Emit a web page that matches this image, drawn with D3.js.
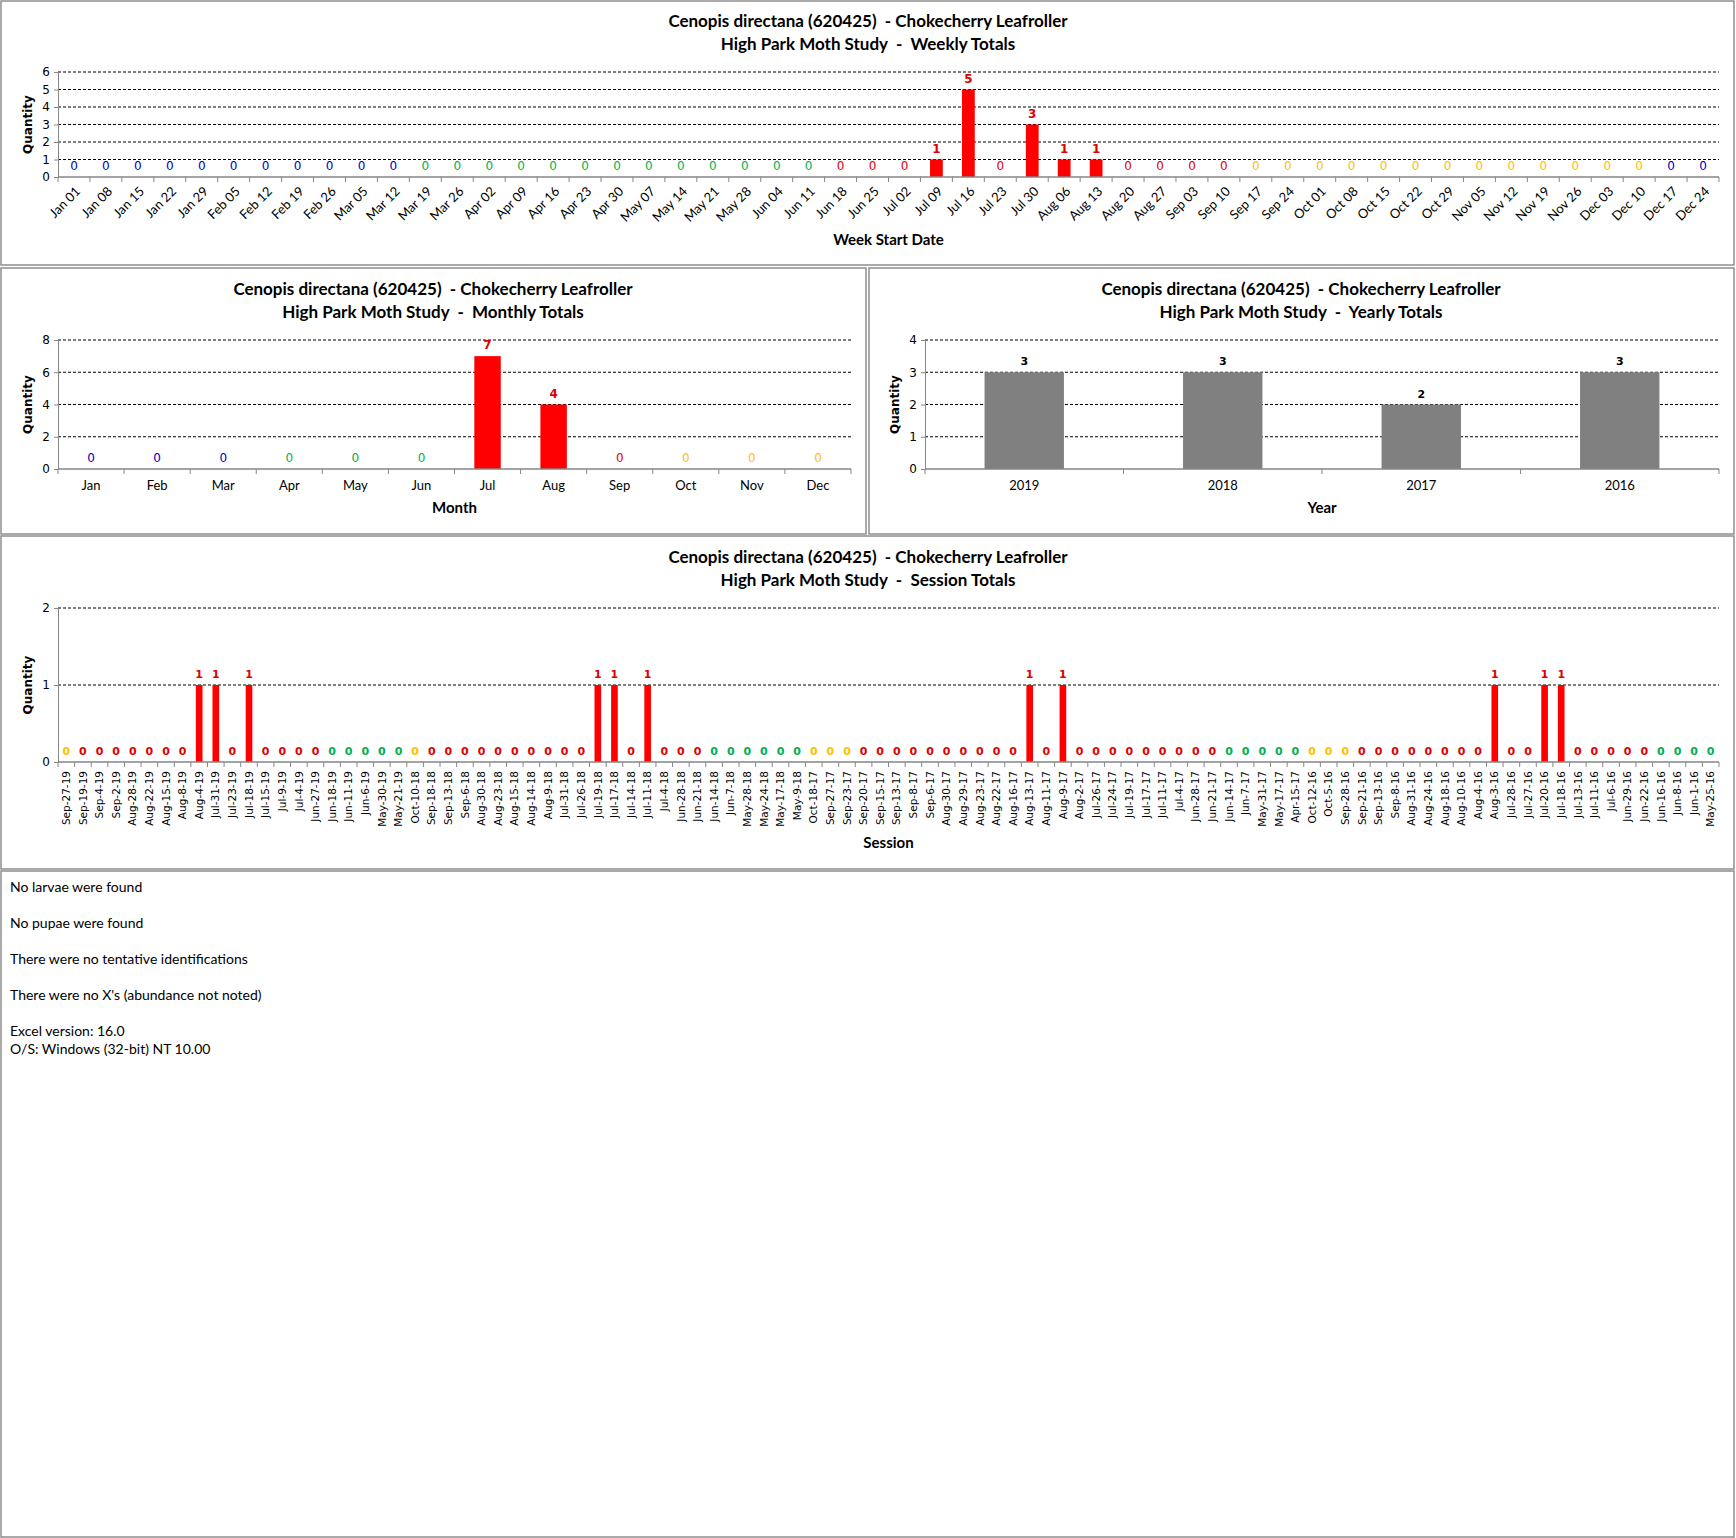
<!DOCTYPE html>
<html>
<head>
<meta charset="utf-8">
<script src="https://cdn.jsdelivr.net/npm/d3@7"></script>
<style>
  body { margin: 0; background: #fff; }
</style>
</head>
<body>
<svg id="page" width="1736" height="1538"></svg>
<script>
// ---- data ----
const weekLabels = ["Jan 01", "Jan 08", "Jan 15", "Jan 22", "Jan 29", "Feb 05", "Feb 12", "Feb 19", "Feb 26",
    "Mar 05", "Mar 12", "Mar 19", "Mar 26", "Apr 02", "Apr 09", "Apr 16", "Apr 23", "Apr 30",
    "May 07", "May 14", "May 21", "May 28", "Jun 04", "Jun 11", "Jun 18", "Jun 25",
    "Jul 02", "Jul 09", "Jul 16", "Jul 23", "Jul 30", "Aug 06", "Aug 13", "Aug 20", "Aug 27",
    "Sep 03", "Sep 10", "Sep 17", "Sep 24", "Oct 01", "Oct 08", "Oct 15", "Oct 22", "Oct 29",
    "Nov 05", "Nov 12", "Nov 19", "Nov 26", "Dec 03", "Dec 10", "Dec 17", "Dec 24"]
const weekValues = [0, 0, 0, 0, 0, 0, 0, 0, 0, 0,
    0, 0, 0, 0, 0, 0, 0, 0, 0, 0,
    0, 0, 0, 0, 0, 0, 0, 1, 5, 0,
    3, 1, 1, 0, 0, 0, 0, 0, 0, 0,
    0, 0, 0, 0, 0, 0, 0, 0, 0, 0,
    0, 0]

const monthLabels = ["Jan", "Feb", "Mar", "Apr", "May", "Jun", "Jul", "Aug", "Sep", "Oct", "Nov", "Dec"]
const monthValues = [0, 0, 0, 0, 0, 0, 7, 4, 0, 0, 0, 0]

const yearLabels = ["2019", "2018", "2017", "2016"]
const yearValues = [3, 3, 2, 3]

const sessionLabels = ["Sep-27-19", "Sep-19-19", "Sep-4-19", "Sep-2-19", "Aug-28-19", "Aug-22-19", "Aug-15-19",
    "Aug-8-19", "Aug-4-19", "Jul-31-19", "Jul-23-19", "Jul-18-19", "Jul-15-19", "Jul-9-19", "Jul-4-19",
    "Jun-27-19", "Jun-18-19", "Jun-11-19", "Jun-6-19", "May-30-19", "May-21-19",
    "Oct-10-18", "Sep-18-18", "Sep-13-18", "Sep-6-18", "Aug-30-18", "Aug-23-18", "Aug-15-18", "Aug-14-18",
    "Aug-9-18", "Jul-31-18", "Jul-26-18", "Jul-19-18", "Jul-17-18", "Jul-14-18", "Jul-11-18", "Jul-4-18",
    "Jun-28-18", "Jun-21-18", "Jun-14-18", "Jun-7-18", "May-28-18", "May-24-18", "May-17-18", "May-9-18",
    "Oct-18-17", "Sep-27-17", "Sep-23-17", "Sep-20-17", "Sep-15-17", "Sep-13-17", "Sep-8-17", "Sep-6-17",
    "Aug-30-17", "Aug-29-17", "Aug-23-17", "Aug-22-17", "Aug-16-17", "Aug-13-17", "Aug-11-17", "Aug-9-17",
    "Aug-2-17", "Jul-26-17", "Jul-24-17", "Jul-19-17", "Jul-17-17", "Jul-11-17", "Jul-4-17", "Jun-28-17",
    "Jun-21-17", "Jun-14-17", "Jun-7-17", "May-31-17", "May-17-17", "Apr-15-17",
    "Oct-12-16", "Oct-5-16", "Sep-28-16", "Sep-21-16", "Sep-13-16", "Sep-8-16", "Aug-31-16", "Aug-24-16",
    "Aug-18-16", "Aug-10-16", "Aug-4-16", "Aug-3-16", "Jul-28-16", "Jul-27-16", "Jul-20-16", "Jul-18-16",
    "Jul-13-16", "Jul-11-16", "Jul-6-16", "Jun-29-16", "Jun-22-16", "Jun-16-16", "Jun-8-16", "Jun-1-16",
    "May-25-16"]
const sessionValues = [0, 0, 0, 0, 0, 0, 0, 0, 1, 1,
    0, 1, 0, 0, 0, 0, 0, 0, 0, 0,
    0, 0, 0, 0, 0, 0, 0, 0, 0, 0,
    0, 0, 1, 1, 0, 1, 0, 0, 0, 0,
    0, 0, 0, 0, 0, 0, 0, 0, 0, 0,
    0, 0, 0, 0, 0, 0, 0, 0, 1, 0,
    1, 0, 0, 0, 0, 0, 0, 0, 0, 0,
    0, 0, 0, 0, 0, 0, 0, 0, 0, 0,
    0, 0, 0, 0, 0, 0, 1, 0, 0, 1,
    1, 0, 0, 0, 0, 0, 0, 0, 0, 0]

const speciesTitle = "Cenopis directana (620425)  - Chokecherry Leafroller"
const notes = ["No larvae were found", "No pupae were found", "There were no tentative identifications",
    "There were no X's (abundance not noted)", "Excel version: 16.0", "O/S: Windows (32-bit) NT 10.00"]

// ---- styling ----
const seasonColor = { winter: "#0000c0", spring: "#00b050", summer: "#e00000", fall: "#ffc000" }
const barRed = "#ff0000"
const axisGrey = "#868686"
const mainFont = "Lato, 'Open Sans', sans-serif"
const verdanaLike = "'DejaVu Sans', Verdana, sans-serif"

function seasonOf(month, day) {
    // month 0-11
    const md = (month + 1) * 100 + day
    if (md >= 320 && md < 621) return "spring"
    if (md >= 621 && md < 922) return "summer"
    if (md >= 922 && md < 1221) return "fall"
    return "winter"
}

const weekColor = label => {
    const [m, d] = label.split(" ")
    const end = new Date(2018, monthLabels.indexOf(m), +d + 6) // season of the week's last day
    return seasonColor[seasonOf(end.getMonth(), end.getDate())]
}
const monthColor = label => seasonColor[["winter", "spring", "summer", "fall"][Math.floor(monthLabels.indexOf(label) / 3)]]
const sessionColor = label => {
    const [m, d] = label.split("-")
    return seasonColor[seasonOf(monthLabels.indexOf(m), +d)]
}

const svg = d3.select("#page")

function panel(x, y, w, h) {
    svg.append("rect")
        .attr("x", x).attr("y", y).attr("width", w).attr("height", h)
        .attr("fill", "#fff").attr("stroke", "#8e8e8e").attr("stroke-width", 1.5)
}

function titles(cx, y1, subtitle) {
    const t = svg.append("text")
        .attr("text-anchor", "middle")
        .style("white-space", "pre")
        .style("font-family", mainFont).style("font-weight", "bold").style("font-size", "17px")
    t.append("tspan").attr("x", cx).attr("y", y1).text(speciesTitle)
    t.append("tspan").attr("x", cx).attr("y", y1 + 23).text("High Park Moth Study  -  " + subtitle)
}

function barChart(o) {
    const g = svg.append("g")
    const x = d3.scaleBand()
        .domain(o.labels)
        .range([o.left, o.right])
        .paddingInner(0.6)
        .paddingOuter(0.3)
    const y = d3.scaleLinear()
        .domain([0, o.max])
        .range([o.bottom, o.top])
    const step = x.step()
    const ticks = d3.range(0, o.max + 1, o.tickStep || 1)

    // dashed gridlines
    g.selectAll(".grid")
        .data(ticks.filter(t => t > 0))
        .enter().append("line")
        .attr("x1", o.left).attr("x2", o.right)
        .attr("y1", d => y(d)).attr("y2", d => y(d))
        .attr("stroke", "#000").attr("stroke-width", 1).attr("stroke-dasharray", "3,2")

    // y axis
    const yAxis = g.append("g")
        .attr("transform", `translate(${o.left},0)`)
        .call(d3.axisLeft(y).tickValues(ticks).tickFormat(d3.format("d")).tickSize(4).tickPadding(4))
    yAxis.select(".domain").attr("stroke", axisGrey)
    yAxis.selectAll(".tick line").attr("stroke", axisGrey)
    yAxis.selectAll("text").style("font-family", verdanaLike).style("font-size", "12px").style("fill", "#000")

    // bars
    g.selectAll(".bar")
        .data(o.values)
        .enter().append("rect")
        .attr("x", (d, i) => x(o.labels[i]))
        .attr("width", x.bandwidth())
        .attr("y", d => y(d))
        .attr("height", d => y(0) - y(d))
        .attr("fill", o.barColor)

    // x axis line + boundary tick marks
    g.append("line")
        .attr("x1", o.left).attr("x2", o.right)
        .attr("y1", o.bottom).attr("y2", o.bottom)
        .attr("stroke", axisGrey).attr("stroke-width", 1.5)
    g.selectAll(".xtick")
        .data(d3.range(o.labels.length + 1))
        .enter().append("line")
        .attr("x1", i => o.left + i * step).attr("x2", i => o.left + i * step)
        .attr("y1", o.bottom).attr("y2", o.bottom + 5)
        .attr("stroke", axisGrey)

    // category labels
    const lab = g.selectAll(".xlab")
        .data(o.labels)
        .enter().append("text")
        .style("font-family", o.labelFont || mainFont)
        .style("font-size", o.labelSize || "13px")
        .style("fill", "#000")
        .text(d => d)
    if (o.rotate === -45) {
        lab.attr("text-anchor", "end")
            .attr("dy", "0.35em")
            .attr("transform", d => `translate(${x(d) + x.bandwidth() / 2 + 4},${o.bottom + 12}) rotate(-45)`)
    } else if (o.rotate === -90) {
        lab.attr("text-anchor", "end")
            .attr("dy", "0.35em")
            .attr("transform", d => `translate(${x(d) + x.bandwidth() / 2},${o.bottom + 9}) rotate(-90)`)
    } else {
        lab.attr("text-anchor", "middle")
            .attr("x", d => x(d) + x.bandwidth() / 2)
            .attr("y", o.bottom + 21)
    }

    // data labels
    g.selectAll(".dlab")
        .data(o.values)
        .enter().append("text")
        .attr("text-anchor", "middle")
        .attr("x", (d, i) => x(o.labels[i]) + x.bandwidth() / 2)
        .attr("y", d => y(d) - 7)
        .style("font-family", verdanaLike)
        .style("font-size", o.dataSize || "12px")
        .style("font-weight", d => (o.allBold || d > 0) ? "bold" : "normal")
        .style("fill", (d, i) => o.labelColor(o.labels[i]))
        .text(d => d)

    // axis titles
    svg.append("text")
        .attr("text-anchor", "middle")
        .attr("x", (o.left + o.right) / 2)
        .attr("y", o.xTitleY)
        .style("font-family", mainFont).style("font-weight", "bold").style("font-size", "15px")
        .text(o.xTitle)
    svg.append("text")
        .attr("text-anchor", "middle")
        .attr("transform", `translate(${o.yTitleX},${(o.top + o.bottom) / 2}) rotate(-90)`)
        .style("font-family", verdanaLike).style("font-weight", "bold").style("font-size", "12px")
        .text("Quantity")
}

// ---- weekly ----
panel(1, 1, 1733, 264)
titles(868, 27, "Weekly Totals")
barChart({
    labels: weekLabels, values: weekValues, max: 6,
    left: 58, right: 1719, top: 72, bottom: 177,
    barColor: barRed, labelColor: weekColor, rotate: -45,
    xTitle: "Week Start Date", xTitleY: 245, yTitleX: 32
})

// ---- monthly ----
panel(1, 268, 865, 266)
titles(433, 295, "Monthly Totals")
barChart({
    labels: monthLabels, values: monthValues, max: 8, tickStep: 2,
    left: 58, right: 851, top: 340, bottom: 469,
    barColor: barRed, labelColor: monthColor,
    xTitle: "Month", xTitleY: 513, yTitleX: 32
})

// ---- yearly ----
panel(869, 268, 865, 266)
titles(1301, 295, "Yearly Totals")
barChart({
    labels: yearLabels, values: yearValues, max: 4,
    left: 925, right: 1719, top: 340, bottom: 469,
    barColor: "#808080", labelColor: () => "#000", allBold: true, dataSize: "11px",
    xTitle: "Year", xTitleY: 513, yTitleX: 899
})

// ---- sessions ----
panel(1, 536, 1733, 333)
titles(868, 563, "Session Totals")
barChart({
    labels: sessionLabels, values: sessionValues, max: 2,
    left: 58, right: 1719, top: 608, bottom: 762,
    barColor: barRed, labelColor: sessionColor, rotate: -90, allBold: true,
    labelFont: verdanaLike, labelSize: "10.5px", dataSize: "11px",
    xTitle: "Session", xTitleY: 848, yTitleX: 32
})

// ---- notes ----
panel(1, 871, 1733, 666)
const noteY = [887, 923, 959, 995, 1031, 1049]
svg.selectAll(".note")
    .data(notes)
    .enter().append("text")
    .attr("x", 10)
    .attr("y", (d, i) => noteY[i] + 5)
    .style("font-family", mainFont).style("font-size", "14px")
    .style("fill", "#000")
    .text(d => d)
</script>
</body>
</html>
